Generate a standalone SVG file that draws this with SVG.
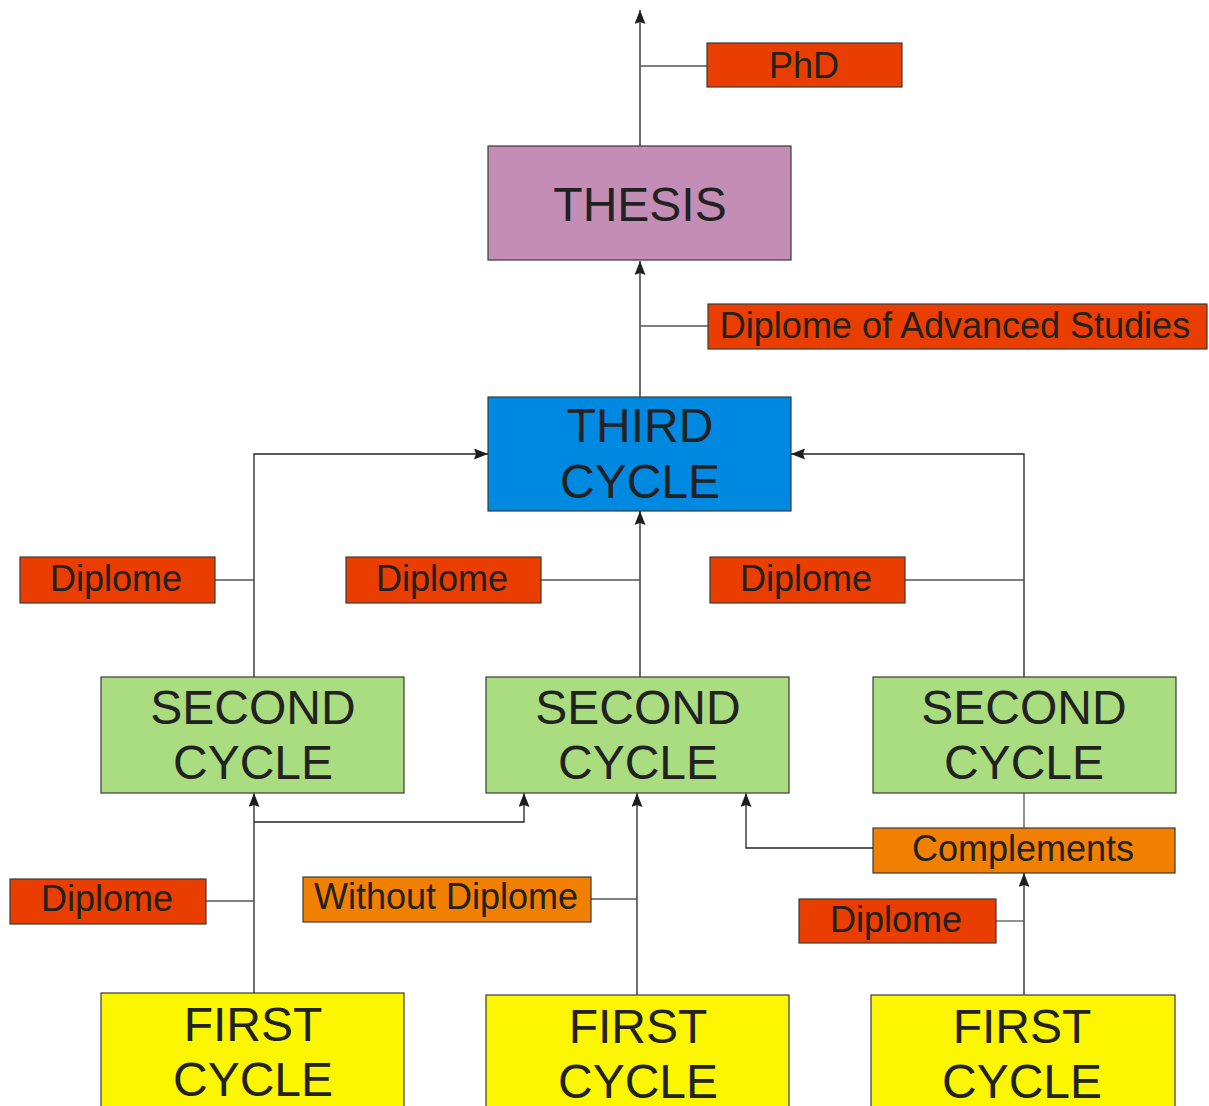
<svg xmlns="http://www.w3.org/2000/svg" width="1209" height="1106" viewBox="0 0 1209 1106">
<defs>
<marker id="arr" viewBox="0 0 14 11" refX="14" refY="5.5" markerWidth="14" markerHeight="11" markerUnits="userSpaceOnUse" orient="auto">
<path d="M0,0 L14,5.5 L0,11 L2,5.5 Z" fill="#1e1e1e"/>
</marker>
<style>
.box{stroke:#3a3a3a;stroke-width:1.2}
.big{font-family:"Liberation Sans",Arial,sans-serif;font-size:48px;fill:#222;text-anchor:middle}
.lbl{font-family:"Liberation Sans",Arial,sans-serif;font-size:36px;fill:#222;text-anchor:middle}
.red{fill:#ea3d00}
.org{fill:#f17f00}
.grn{fill:#aadd7f}
.yel{fill:#fcf700}
.arrow{fill:none;stroke:#222;stroke-width:1.3;marker-end:url(#arr)}
.line{fill:none;stroke:#555;stroke-width:1.3}
</style>
</defs>
<rect width="1209" height="1106" fill="#fff"/>
<g id="connectors">
<path class="arrow" d="M640,146 V10"/>
<path class="line" d="M640,66 H707"/>
<path class="arrow" d="M640,397 V261"/>
<path class="line" d="M640,326 H708"/>
<path class="arrow" d="M254,677 V454 H488"/>
<path class="arrow" d="M1024,677 V454 H791"/>
<path class="arrow" d="M640,677 V511"/>
<path class="line" d="M215,580 H254"/>
<path class="line" d="M541,580 H640"/>
<path class="line" d="M905,580 H1024"/>
<path class="arrow" d="M254,993 V793"/>
<path class="arrow" d="M254,822 H524 V793"/>
<path class="line" d="M206,901 H254"/>
<path class="arrow" d="M637,995 V793"/>
<path class="line" d="M591,899 H637"/>
<path class="line" d="M1024,793 V828"/>
<path class="arrow" d="M873,848 H746 V793"/>
<path class="arrow" d="M1024,995 V873"/>
<path class="line" d="M996,921 H1024"/>
</g>
<g id="phd"><rect class="box red" x="707" y="43" width="195" height="44"/><text class="lbl" x="804" y="78">PhD</text></g>
<g id="thesis"><rect class="box" fill="#c38db6" x="488" y="146" width="303" height="114"/><text class="big" x="640" y="221">THESIS</text></g>
<g id="das"><rect class="box red" x="708" y="304" width="499" height="45"/><text class="lbl" x="955" y="338">Diplome of Advanced Studies</text></g>
<g id="third"><rect class="box" fill="#0089e1" x="488" y="397" width="303" height="114"/><text class="big" x="640" y="442">THIRD</text><text class="big" x="640" y="498">CYCLE</text></g>
<g id="dip1"><rect class="box red" x="20" y="557" width="195" height="46"/><text class="lbl" x="116" y="591">Diplome</text></g>
<g id="dip2"><rect class="box red" x="346" y="557" width="195" height="46"/><text class="lbl" x="442" y="591">Diplome</text></g>
<g id="dip3"><rect class="box red" x="710" y="557" width="195" height="46"/><text class="lbl" x="806" y="591">Diplome</text></g>
<g id="second1"><rect class="box grn" x="101" y="677" width="303" height="116"/><text class="big" x="253" y="724">SECOND</text><text class="big" x="253" y="779">CYCLE</text></g>
<g id="second2"><rect class="box grn" x="486" y="677" width="303" height="116"/><text class="big" x="638" y="724">SECOND</text><text class="big" x="638" y="779">CYCLE</text></g>
<g id="second3"><rect class="box grn" x="873" y="677" width="303" height="116"/><text class="big" x="1024" y="724">SECOND</text><text class="big" x="1024" y="779">CYCLE</text></g>
<g id="compl"><rect class="box org" x="873" y="828" width="302" height="45"/><text class="lbl" x="1023" y="861">Complements</text></g>
<g id="dip4"><rect class="box red" x="10" y="879" width="196" height="45"/><text class="lbl" x="107" y="911">Diplome</text></g>
<g id="wodip"><rect class="box org" x="303" y="877" width="288" height="45"/><text class="lbl" x="446" y="909">Without Diplome</text></g>
<g id="dip5"><rect class="box red" x="799" y="899" width="197" height="44"/><text class="lbl" x="896" y="932">Diplome</text></g>
<g id="first1"><rect class="box yel" x="101" y="993" width="303" height="120"/><text class="big" x="253" y="1041">FIRST</text><text class="big" x="253" y="1096">CYCLE</text></g>
<g id="first2"><rect class="box yel" x="486" y="995" width="303" height="120"/><text class="big" x="638" y="1043">FIRST</text><text class="big" x="638" y="1098">CYCLE</text></g>
<g id="first3"><rect class="box yel" x="871" y="995" width="304" height="120"/><text class="big" x="1022" y="1043">FIRST</text><text class="big" x="1022" y="1098">CYCLE</text></g>
</svg>
